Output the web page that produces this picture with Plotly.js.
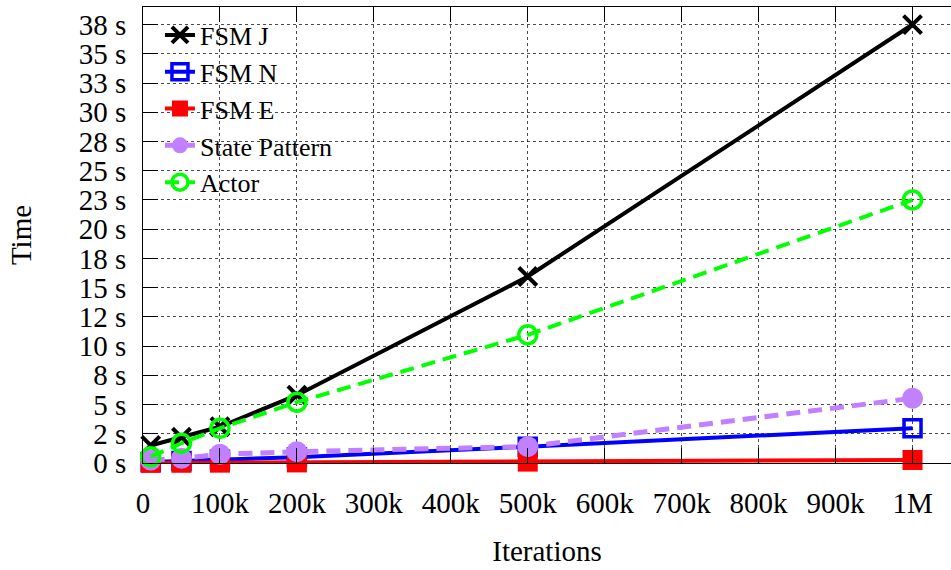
<!DOCTYPE html>
<html>
<head>
<meta charset="utf-8">
<script src="https://cdn.plot.ly/plotly-3.0.1.min.js"></script>
<style>
html,body{margin:0;padding:0;background:#fff;}
#chart{width:951px;height:570px;}
#chart .legendtext{font-family:"Liberation Serif",serif !important;}
</style>
</head>
<body>
<div id="chart"></div>
<script>
// Data
const iterations = [10000, 50000, 100000, 200000, 500000, 1000000];
const seriesNames = ["FSM J", "FSM N", "FSM E", "State Pattern", "Actor"];
const fsmJ = [1.5, 2.2, 3.1, 5.8, 15.95, 37.5];
const fsmN = [0.08, 0.17, 0.28, 0.5, 1.4, 2.97];
const fsmE = [0.01, 0.02, 0.03, 0.05, 0.12, 0.26];
const statePattern = [0.26, 0.4, 0.75, 0.97, 1.4, 5.54];
const actor = [0.54, 1.69, 2.97, 5.2, 10.96, 22.5];

const yTickVals = [0, 2.5, 5, 7.5, 10, 12.5, 15, 17.5, 20, 22.5, 25, 27.5, 30, 32.5, 35, 37.5];
const yTickText = ["0 s", "2 s", "5 s", "8 s", "10 s", "12 s", "15 s", "18 s", "20 s", "23 s", "25 s", "28 s", "30 s", "33 s", "35 s", "38 s"];
const xTickVals = [0, 100000, 200000, 300000, 400000, 500000, 600000, 700000, 800000, 900000, 1000000];
const xTickText = ["0", "100k", "200k", "300k", "400k", "500k", "600k", "700k", "800k", "900k", "1M"];

const FONT = "Liberation Serif, serif";

const traces = [
  {x: iterations, y: fsmJ, name: seriesNames[0], mode: "lines+markers", cliponaxis: false,
   line: {color: "#000000", width: 4},
   marker: {symbol: "x-thin-open", size: 18, color: "#000000", line: {color: "#000000", width: 4}}},
  {x: iterations, y: fsmN, name: seriesNames[1], mode: "lines+markers", cliponaxis: false,
   line: {color: "#0000ff", width: 4},
   marker: {symbol: "square-open", size: 17, color: "#0000ff", line: {color: "#0000ff", width: 3.5}}},
  {x: iterations, y: fsmE, name: seriesNames[2], mode: "lines+markers", cliponaxis: false,
   line: {color: "#ff0000", width: 4},
   marker: {symbol: "square", size: 20, color: "#ff0000"}},
  {x: iterations, y: statePattern, name: seriesNames[3], mode: "lines+markers", cliponaxis: false,
   line: {color: "#c080ff", width: 5, dash: "14px,8px"},
   marker: {symbol: "circle", size: 21, color: "#c080ff"}},
  {x: iterations, y: actor, name: seriesNames[4], mode: "lines+markers", cliponaxis: false,
   line: {color: "#00ff00", width: 4, dash: "14px,8px"},
   marker: {symbol: "circle-open", size: 18, color: "#00ff00", line: {color: "#00ff00", width: 3.5}}}
];

const layout = {
  width: 951, height: 570,
  margin: {l: 143, r: 0, t: 7, b: 107},
  paper_bgcolor: "#ffffff", plot_bgcolor: "#ffffff",
  font: {family: FONT, size: 29, color: "#000000"},
  showlegend: true,
  legend: {x: 0.021, y: 0.99, xanchor: "left", yanchor: "top",
           bgcolor: "rgba(255,255,255,0)", borderwidth: 0,
           font: {family: FONT, size: 26, color: "#000000"}, tracegroupgap: 0},
  // opaque key area hiding the grid behind the legend (as in the reference)
  shapes: [{type: "rect", xref: "paper", yref: "paper", x0: 0.002, x1: 0.38, y0: 0.575, y1: 0.998,
            fillcolor: "#ffffff", line: {width: 0}, layer: "between"}],
  xaxis: {
    range: [0, 1050000], tickmode: "array", tickvals: xTickVals, ticktext: xTickText,
    ticks: "inside", ticklen: 15, tickwidth: 1, tickcolor: "#000000",
    showline: true, linecolor: "#000000", linewidth: 1, mirror: "ticks",
    showgrid: true, gridcolor: "rgba(0,0,0,0.7)", griddash: "dot", gridwidth: 1,
    zeroline: false, ticklabelstandoff: 14,
    tickfont: {family: FONT, size: 29},
    title: {text: "Iterations", font: {family: FONT, size: 29}, standoff: 22}
  },
  yaxis: {
    range: [0, 39], tickmode: "array", tickvals: yTickVals, ticktext: yTickText,
    ticks: "inside", ticklen: 15, tickwidth: 1, tickcolor: "#000000",
    showline: true, linecolor: "#000000", linewidth: 1, mirror: false,
    showgrid: true, gridcolor: "rgba(0,0,0,0.7)", griddash: "dot", gridwidth: 1,
    zeroline: false, ticklabelstandoff: 10,
    tickfont: {family: FONT, size: 29},
    title: {text: "Time", font: {family: FONT, size: 29}, standoff: 38}
  }
};

Plotly.newPlot("chart", traces, layout, {displayModeBar: false, staticPlot: true});
</script>
</body>
</html>
